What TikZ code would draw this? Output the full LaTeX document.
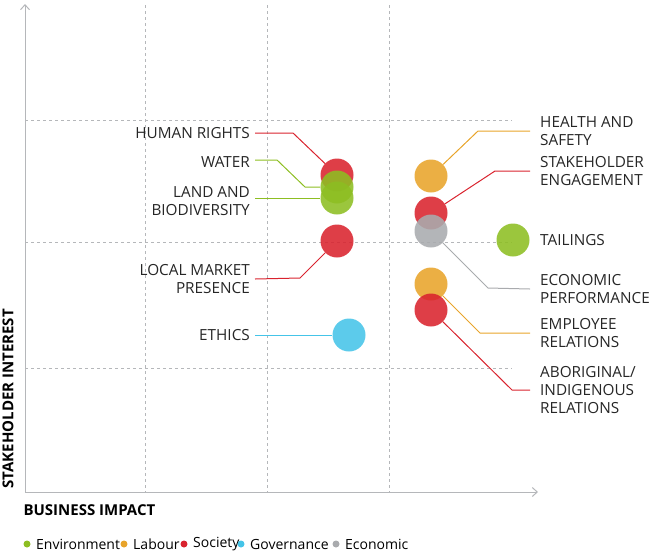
\documentclass[tikz,border=0pt]{standalone}
\usepackage{fontspec}
\setmainfont{Open Sans}
\usetikzlibrary{arrows.meta, positioning}
\definecolor{EnvGreen}{HTML}{8DBE22}
\definecolor{LabOrange}{HTML}{E8A42A}
\definecolor{SocRed}{HTML}{D9232E}
\definecolor{GovCyan}{HTML}{45C4E8}
\definecolor{EcoGray}{HTML}{A9ABAE}
\definecolor{AxisGray}{HTML}{B5B7BA}

\begin{document}
\begin{tikzpicture}[
  x=1pt, y=-1pt,
  issue/.style={circle, minimum size=33pt, inner sep=0pt, fill opacity=0.88},
  lbl/.style={font=\fontsize{15.3}{18}\selectfont, text=black!85, inner sep=0pt},
  lblL/.style={lbl, anchor=east, align=right},
  lblR/.style={lbl, anchor=west, align=left},
  lead/.style={line width=1pt},
  grid/.style={AxisGray, dashed, dash pattern=on 3pt off 3pt, line width=0.6pt},
  leg/.style={font=\fontsize{14}{16}\selectfont, anchor=west, inner sep=0pt}
]
\useasboundingbox (0,0) rectangle (655,552);

% grid and axes
\foreach \gx in {145,267,389} \draw[grid] (\gx,5) -- (\gx,492);
\foreach \gy in {120,242,368} \draw[grid] (25,\gy) -- (512,\gy);
\coordinate (O) at (25,492);
\coordinate (Ytop) at (25,4);
\coordinate (Xend) at (538,492);
\draw[AxisGray, line width=1pt, -{Straight Barb[length=5pt,width=9pt]}] (O) -- (Ytop);
\draw[AxisGray, line width=1pt, -{Straight Barb[length=5pt,width=9pt]}] (O) -- (Xend);
\node[font=\bfseries\fontsize{15}{18}\selectfont, rotate=90, anchor=west] (ylab) at (8,492) {STAKEHOLDER INTEREST};
\node[font=\bfseries\fontsize{15}{18}\selectfont, anchor=west] (xlab) at (20,510) {BUSINESS IMPACT};

% circles
\node[issue, fill=SocRed] (hr) at (337,175) {};
\node[issue, fill=EnvGreen] (water) at (337,187) {};
\node[issue, fill=EnvGreen] (land) at (337,198) {};
\node[issue, fill=SocRed] (local) at (337,241) {};
\node[issue, fill=GovCyan] (ethics) at (349,335) {};
\node[issue, fill=LabOrange] (health) at (431,176) {};
\node[issue, fill=SocRed] (stake) at (431,213) {};
\node[issue, fill=EcoGray] (econ) at (431,231) {};
\node[issue, fill=EnvGreen] (tail) at (513,240) {};
\node[issue, fill=LabOrange] (empl) at (431,284) {};
\node[issue, fill=SocRed] (abor) at (431,310) {};

% labels left
\node[lblL] (tHr) at (250,133) {HUMAN RIGHTS};
\node[lblL] (tWater) at (250,162) {WATER};
\node[lblL] (tLand) at (250,201) {LAND AND\\BIODIVERSITY};
\node[lblL] (tLocal) at (250,279) {LOCAL MARKET\\PRESENCE};
\node[lblL] (tEthics) at (250,335) {ETHICS};
% labels right
\node[lblR] (tHealth) at (540,131) {HEALTH AND\\SAFETY};
\node[lblR] (tStake) at (540,171) {STAKEHOLDER\\ENGAGEMENT};
\node[lblR] (tTail) at (540,240) {TAILINGS};
\node[lblR] (tEcon) at (540,289) {ECONOMIC\\PERFORMANCE};
\node[lblR] (tEmpl) at (540,333) {EMPLOYEE\\RELATIONS};
\node[lblR] (tAbor) at (540,390) {ABORIGINAL/\\INDIGENOUS\\RELATIONS};

% leaders
\draw[lead, SocRed] (tHr.east) ++(5,0) -- (293,133) -- (hr);
\draw[lead, EnvGreen] (tWater.east) ++(5,-2) -- (277,160) -- (305,187) -- (water);
\draw[lead, EnvGreen] (tLand.east) ++(5,-3) -- (land);
\draw[lead, SocRed] (tLocal.east) ++(5,0) -- (300,278) -- (local);
\draw[lead, GovCyan] (tEthics.east) ++(5,0) -- (ethics);
\draw[lead, LabOrange] (tHealth.west) ++(-10,0) -- (478,131) -- (health);
\draw[lead, SocRed] (tStake.west) ++(-10,0) -- (495,171) -- (stake);
\draw[lead, EcoGray] (tEcon.west) ++(-10,0) -- (488,288) -- (econ);
\draw[lead, LabOrange] (tEmpl.west) ++(-10,0) -- (480,333) -- (empl);
\draw[lead, SocRed] (tAbor.west) ++(-10,0) -- (512,390) -- (abor);

% legend
\foreach \c/\t/\px in {EnvGreen/Environment/23, LabOrange/Labour/120, SocRed/Society/180, GovCyan/Governance/237, EcoGray/Economic/332} {
  \fill[\c] (\px+4,544) circle (3.5pt);
  \node[leg] (leg\t) at (\px+13,544) {\t};
}
\end{tikzpicture}
\end{document}
